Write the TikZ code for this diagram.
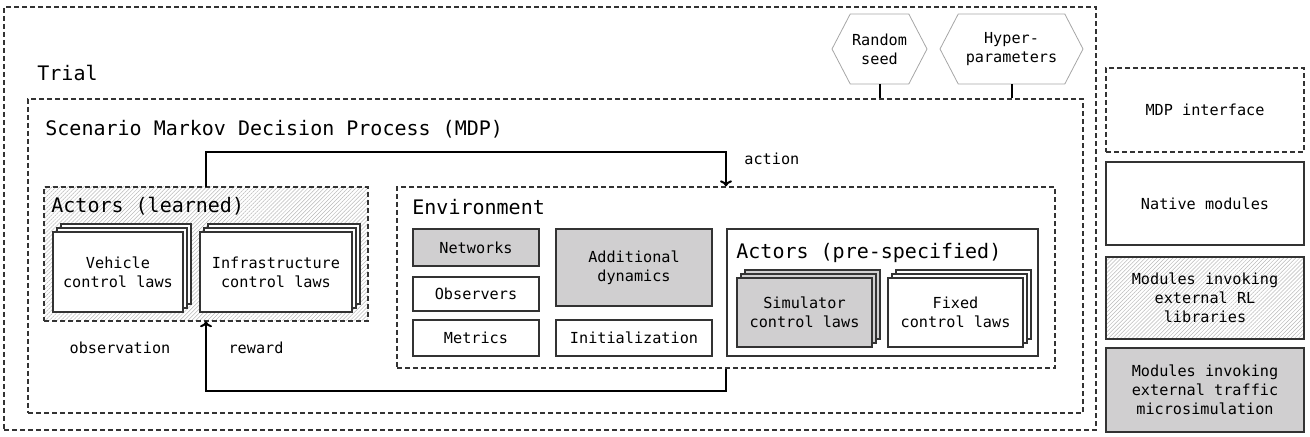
\documentclass[tikz,border=0pt]{standalone}
\usepackage{fontspec}
\setmainfont{DejaVu Sans Mono}
\usetikzlibrary{arrows.meta,patterns.meta,shapes.symbols}
\definecolor{modgray}{RGB}{208,207,208}
\definecolor{edge}{RGB}{51,51,51}
\tikzset{
  sz/.style 2 args={minimum width=#1*0.5pt, minimum height=#2*0.5pt},
  box/.style={draw=edge, line width=0.65pt, fill=white, inner sep=0pt, align=center,
    font=\fontsize{7.6}{9.5}\selectfont},
  dbox/.style={box, dash pattern=on 2.6pt off 1.4pt},
  simbox/.style={box, fill=modgray},
  hatched/.style={pattern={Lines[angle=45,distance=1.4pt,line width=0.25pt]}, pattern color=gray!55},
  head/.style={inner sep=0pt, anchor=mid west, font=\fontsize{10}{12}\selectfont},
  lbl/.style={inner sep=0pt, font=\fontsize{7.6}{9.5}\selectfont},
  param/.style={signal, signal to=west and east, signal pointer angle=125, draw=gray!70,
    line width=0.4pt, inner sep=0pt, align=center, font=\fontsize{7.6}{9.5}\selectfont},
  flow/.style={line width=1pt, -{To[length=3pt,width=6pt]}},
  tick/.style={line width=1pt}
}
\begin{document}
\begin{tikzpicture}[x=0.5pt,y=-0.5pt]
\useasboundingbox (0,0) rectangle (1310,437);
% trial and scenario
\node[dbox, fill=none, sz={1092}{423}] (trial) at (550,218.5) {};
\node[head] (trialtxt) at (37,75) {Trial};
\node[param, sz={95}{70}] (seed) at (879.5,49) {Random\\seed};
\node[param, sz={143}{70}] (hyper) at (1011.5,49) {Hyper-\\parameters};
\node[dbox, sz={1055}{314}] (mdp) at (555.5,256) {};
\node[head] (mdptxt) at (45,130) {Scenario Markov Decision Process (MDP)};
\draw[tick] (seed.south) -- (seed.south |- mdp.north);
\draw[tick] (hyper.south) -- (hyper.south |- mdp.north);
% learned actors
\node[dbox, hatched, sz={324}{134}] (learned) at (206,254) {};
\node[head] (learnedtxt) at (51,207) {Actors (learned)};
\node[box, sz={130}{80}] (vehback) at (126,264) {};
\node[box, sz={130}{80}] (vehmid) at (122,268) {};
\node[box, sz={130}{80}] (veh) at (118,272) {Vehicle\\control laws};
\node[box, sz={152}{80}] (infraback) at (284,264) {};
\node[box, sz={152}{80}] (inframid) at (280,268) {};
\node[box, sz={152}{80}] (infra) at (276,272) {Infrastructure\\control laws};
% environment
\node[dbox, sz={658}{181}] (env) at (726,277.5) {};
\node[head] (envtxt) at (412,209) {Environment};
\node[simbox, sz={126}{37}] (networks) at (476,247.5) {Networks};
\node[box, sz={126}{34}] (observers) at (476,294) {Observers};
\node[box, sz={126}{36}] (metrics) at (476,338) {Metrics};
\node[simbox, sz={156}{77}] (dynamics) at (634,267.5) {Additional\\dynamics};
\node[box, sz={156}{36}] (init) at (634,338) {Initialization};
\node[box, sz={311}{127}] (prespec) at (882.5,292.5) {};
\node[head] (prespectxt) at (736,253) {Actors (pre-specified)};
\node[simbox, sz={135}{69}] (simback) at (812.5,304.5) {};
\node[simbox, sz={135}{69}] (simmid) at (808.5,308.5) {};
\node[simbox, sz={135}{69}] (sim) at (804.5,312.5) {Simulator\\control laws};
\node[box, sz={135}{69}] (fixedback) at (963.5,304.5) {};
\node[box, sz={135}{69}] (fixedmid) at (959.5,308.5) {};
\node[box, sz={135}{69}] (fixed) at (955.5,312.5) {Fixed\\control laws};
% loop
\draw[flow] (learned.north) -- ++(0,-35) -| (env.north);
\node[lbl, anchor=mid west] (action) at (744,159) {action};
\draw[flow] (env.south) -- ++(0,22) -| (learned.south);
\node[lbl] (observation) at (120,348) {observation};
\node[lbl] (reward) at (256,348) {reward};
% legend
\node[dbox, sz={198}{84}] (keyiface) at (1205,110) {MDP interface};
\node[box, sz={198}{83}] (keynative) at (1205,203.5) {Native modules};
\node[box, hatched, sz={198}{82}] (keyrl) at (1205,298) {Modules invoking\\external RL\\libraries};
\node[simbox, sz={198}{84}] (keytraffic) at (1205,390) {Modules invoking\\external traffic\\microsimulation};
\end{tikzpicture}
\end{document}
